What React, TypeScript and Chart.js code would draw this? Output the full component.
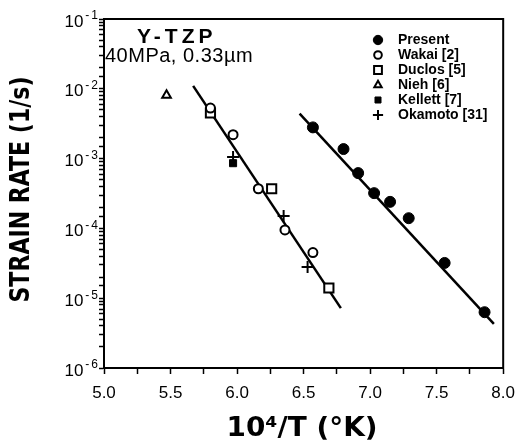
import React, { useEffect, useRef } from 'react';
import { Chart, registerables } from 'chart.js';
import { drawPoint } from 'chart.js/helpers';

Chart.register(...registerables);

// ---- data (10^4/T in 1/K, strain rate in 1/s) ----
const presentX = [6.57, 6.80, 6.91, 7.03, 7.15, 7.29, 7.56, 7.86];
const presentY = [2.8e-3, 1.37e-3, 6.2e-4, 3.2e-4, 2.4e-4, 1.4e-4, 3.2e-5, 6.3e-6];
const wakaiX = [5.80, 5.97, 6.16, 6.36, 6.57];
const wakaiY = [5.3e-3, 2.2e-3, 3.7e-4, 9.5e-5, 4.5e-5];
const duclosX = [5.80, 6.26, 6.69];
const duclosY = [4.5e-3, 3.7e-4, 1.4e-5];
const niehX = [5.47];
const niehY = [8.1e-3];
const kellettX = [5.97];
const kellettY = [8.6e-4];
const okamotoX = [5.97, 6.35, 6.53];
const okamotoY = [1.05e-3, 1.5e-4, 2.8e-5];
const leftFitX = [5.67, 6.78];
const leftFitY = [1.1e-2, 7.2e-6];
const rightFitX = [6.47, 7.93];
const rightFitY = [4.4e-3, 4.3e-6];

const seriesLabels = ['Present', 'Wakai [2]', 'Duclos [5]', 'Nieh [6]', 'Kellett [7]', 'Okamoto [31]'];
const xTickLabels = ['5.0', '5.5', '6.0', '6.5', '7.0', '7.5', '8.0'];
const yTitle = 'STRAIN RATE (1/s)';
const xTitle = '10⁴/T (°K)';
const mainLabel = 'Y-TZP';
const subLabel = '40MPa, 0.33µm';

const pts = (xs: number[], ys: number[]) => xs.map((x, i) => ({ x, y: ys[i] }));

export default function App() {
  const ref = useRef<HTMLCanvasElement | null>(null);

  useEffect(() => {
    document.body.style.margin = '0';
    const canvas = ref.current;
    if (!canvas) return;

    const black = '#000';
    const markerDefs: any[] = [
      { data: pts(presentX, presentY), pointStyle: 'circle', pointRadius: 5.5, pointBackgroundColor: black, pointBorderWidth: 1 },
      { data: pts(wakaiX, wakaiY), pointStyle: 'circle', pointRadius: 4.5, pointBackgroundColor: '#fff', pointBorderWidth: 2 },
      { data: pts(duclosX, duclosY), pointStyle: 'rect', pointRadius: 6.5, pointBackgroundColor: '#fff', pointBorderWidth: 2 },
      { data: pts(niehX, niehY), pointStyle: 'triangle', pointRadius: 5, pointBackgroundColor: '#fff', pointBorderWidth: 2 },
      { data: pts(kellettX, kellettY), pointStyle: 'rect', pointRadius: 5, pointBackgroundColor: black, pointBorderWidth: 1 },
      { data: pts(okamotoX, okamotoY), pointStyle: 'cross', pointRadius: 6, pointBackgroundColor: black, pointBorderWidth: 2 },
    ];
    const markers = markerDefs.map((d, i) => ({
      label: seriesLabels[i],
      showLine: false,
      pointBorderColor: black,
      pointHoverRadius: d.pointRadius,
      order: 1,
      ...d,
    }));
    const fits = [pts(leftFitX, leftFitY), pts(rightFitX, rightFitY)].map((data, i) => ({
      label: 'fit' + i,
      data,
      showLine: true,
      borderColor: black,
      borderWidth: 2.5,
      pointRadius: 0,
      order: 2,
    }));

    const decorations = {
      id: 'decorations',
      afterDraw(chart: any) {
        const { ctx, chartArea: a, scales } = chart;
        ctx.save();
        // frame
        ctx.strokeStyle = black;
        ctx.lineWidth = 2;
        ctx.strokeRect(a.left, a.top, a.right - a.left, a.bottom - a.top);

        // y tick labels 10^n
        const ys = scales.y;
        ctx.fillStyle = black;
        ys.ticks.forEach((t: any) => {
          const e = Math.round(Math.log10(t.value));
          if (Math.abs(t.value / Math.pow(10, e) - 1) > 1e-6) return;
          const py = ys.getPixelForValue(t.value);
          const sup = '-' + Math.abs(e);
          ctx.font = '12px "Liberation Sans", Arial, sans-serif';
          (ctx as any).letterSpacing = '2px';
          const supW = ctx.measureText(sup).width;
          const right = a.left - 4;
          ctx.textAlign = 'right';
          ctx.textBaseline = 'middle';
          ctx.fillText(sup, right, py - 3);
          (ctx as any).letterSpacing = '0px';
          ctx.font = '17px "Liberation Sans", Arial, sans-serif';
          ctx.fillText('10', right - supW - 2, py + 3);
        });

        // axis titles (heavy, condensed)
        const drawTitle = (text: string, cx: number, cy: number, targetW: number, rot: number, size: number) => {
          ctx.save();
          ctx.translate(cx, cy);
          ctx.rotate(rot);
          ctx.font = `bold ${size}px "DejaVu Sans", sans-serif`;
          const w = ctx.measureText(text).width;
          ctx.scale(targetW / w, 1);
          ctx.textAlign = 'center';
          ctx.textBaseline = 'middle';
          ctx.fillText(text, 0, 0);
          ctx.restore();
        };
        drawTitle(yTitle, 22, (a.top + a.bottom) / 2 - 4, 226, -Math.PI / 2, 27);
        drawTitle(xTitle, 302, 429, 151, 0, 26);

        // in-plot labels
        ctx.textAlign = 'left';
        ctx.textBaseline = 'alphabetic';
        ctx.font = 'bold 21px "Liberation Sans", Arial, sans-serif';
        (ctx as any).letterSpacing = '4px';
        ctx.fillText(mainLabel, a.left + 33, a.top + 24);
        (ctx as any).letterSpacing = '0.5px';
        ctx.font = '20px "Liberation Sans", Arial, sans-serif';
        ctx.fillText(subLabel, a.left + 1, a.top + 43);
        (ctx as any).letterSpacing = '0px';

        // legend
        const lx = 378, tx = 398, ly0 = 40, dy = 15;
        markers.forEach((m: any, i: number) => {
          const y = ly0 + i * dy;
          ctx.fillStyle = m.pointBackgroundColor;
          ctx.strokeStyle = black;
          ctx.lineWidth = m.pointBorderWidth;
          drawPoint(ctx, { pointStyle: m.pointStyle, radius: m.pointRadius * 0.85, rotation: 0, borderWidth: m.pointBorderWidth }, lx, y);
          ctx.fillStyle = black;
          ctx.font = 'bold 14px "Liberation Sans", Arial, sans-serif';
          ctx.textBaseline = 'middle';
          ctx.fillText(m.label, tx, y);
        });
        ctx.restore();
      },
    };

    const chart = new Chart(canvas, {
      type: 'scatter',
      data: { datasets: [...markers, ...fits] as any },
      options: {
        responsive: false,
        animation: false,
        layout: { padding: { top: 19, right: 17, left: 0, bottom: 0 } },
        plugins: { legend: { display: false }, tooltip: { enabled: false } },
        scales: {
          x: {
            type: 'linear',
            min: 5,
            max: 8,
            afterFit: (s: any) => { s.height = 74; },
            ticks: {
              stepSize: 0.25,
              autoSkip: false,
              maxRotation: 0,
              padding: 9,
              color: black,
              font: { family: '"Liberation Sans", Arial, sans-serif', size: 17 },
              callback: (v: any) => {
                const i = Math.round((Number(v) - 5) / 0.5);
                return Math.abs(Number(v) - 5 - i * 0.5) < 1e-6 ? xTickLabels[i] : '';
              },
            },
            grid: { drawOnChartArea: false, drawTicks: true, tickLength: 6, tickColor: black, tickWidth: 1.5 },
            border: { display: true, color: black, width: 2 },
          },
          y: {
            type: 'logarithmic',
            min: 1e-6,
            max: 1e-1,
            afterFit: (s: any) => { s.width = 104; },
            ticks: { autoSkip: false, callback: () => '', padding: 0 },
            grid: { drawOnChartArea: false, drawTicks: true, tickLength: 5, tickColor: black, tickWidth: 1.5 },
            border: { display: true, color: black, width: 2 },
          },
        },
      },
      plugins: [decorations],
    });
    return () => chart.destroy();
  }, []);

  return (
    <div style={{ width: 524, height: 442, background: '#fff' }}>
      <canvas ref={ref} width={524} height={442} style={{ display: 'block' }} />
    </div>
  );
}
